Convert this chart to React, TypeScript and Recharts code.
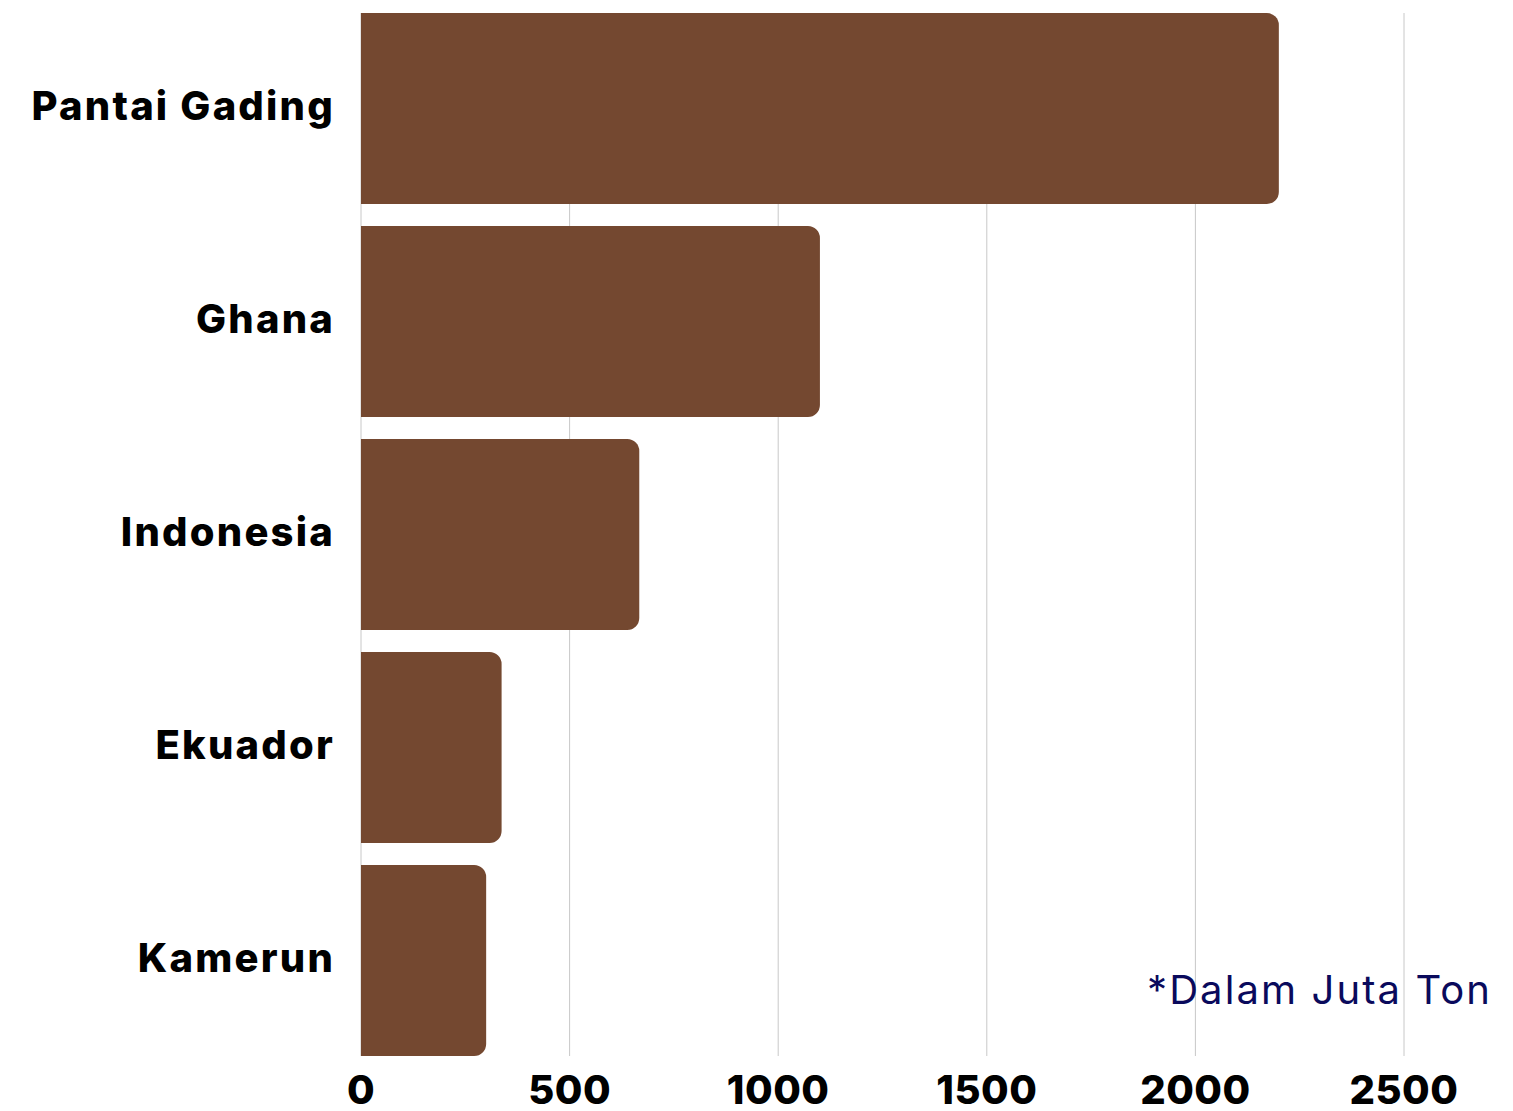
import { Bar, BarChart, CartesianGrid, XAxis, YAxis } from "recharts";

const countries = ["Pantai Gading", "Ghana", "Indonesia", "Ekuador", "Kamerun"];
const production = [2200, 1100, 667, 337, 300];
const xTicks = [0, 500, 1000, 1500, 2000, 2500];

const data = countries.map((country, i) => ({ country, value: production[i] }));

const FONT = "Inter, 'Noto Sans', sans-serif";

export default function App() {
  return (
    <div style={{ position: "absolute", left: 0, top: 0, width: 1513, height: 1111, background: "#fff" }}>
      <BarChart
        width={1513}
        height={1111}
        data={data}
        layout="vertical"
        barCategoryGap={11}
        margin={{ top: 13, right: 109, bottom: 0, left: 0 }}
      >
        <CartesianGrid horizontal={false} stroke="#c8c8c8" strokeWidth={1} />
        <XAxis
          type="number"
          domain={[0, 2500]}
          ticks={xTicks}
          axisLine={false}
          tickLine={false}
          tickSize={0}
          tickMargin={20}
          height={55}
          interval={0}
          tick={{ fill: "#000", fontSize: 40, fontWeight: 800, fontFamily: FONT, letterSpacing: 0.5 }}
        />
        <YAxis
          type="category"
          dataKey="country"
          width={361}
          axisLine={false}
          tickLine={false}
          tickSize={0}
          tickMargin={26}
          padding={{ top: -11, bottom: -11 }}
          tick={{ fill: "#000", fontSize: 40, fontWeight: 800, fontFamily: FONT, letterSpacing: 2.2, dy: -3 }}
        />
        <Bar dataKey="value" fill="#744830" radius={[0, 12, 12, 0]} isAnimationActive={false} />
      </BarChart>
      <div
        style={{
          position: "absolute",
          left: 1147,
          top: 962,
          fontFamily: FONT,
          fontSize: 40,
          color: "#0a0a5c",
          whiteSpace: "nowrap",
          lineHeight: "56px",
          letterSpacing: 2.1,
        }}
      >
        *Dalam Juta Ton
      </div>
    </div>
  );
}
